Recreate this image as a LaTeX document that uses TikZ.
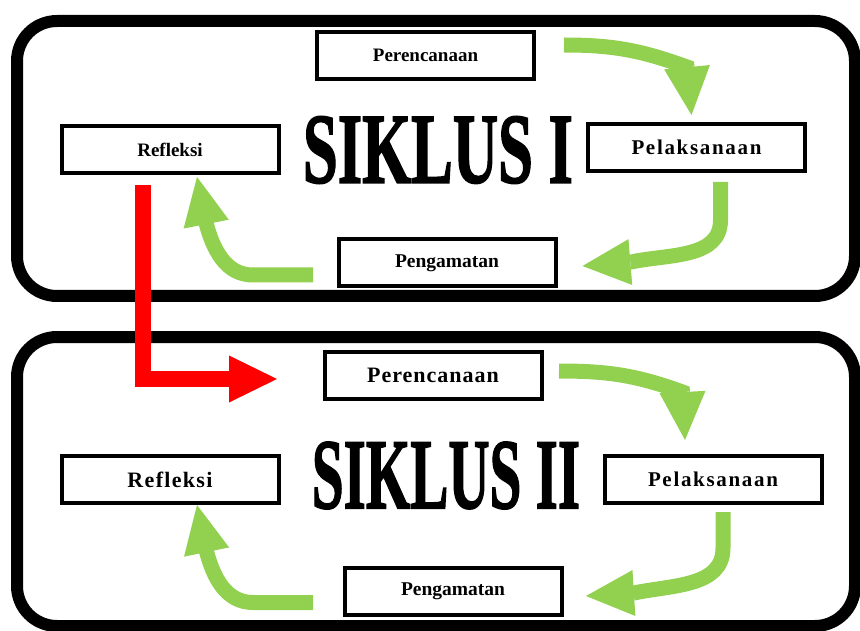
\documentclass[tikz,border=0pt]{standalone}
\usepackage{fontspec}
\setmainfont{Liberation Serif}
\usetikzlibrary{arrows.meta}
\definecolor{hijau}{HTML}{92D050}

\begin{document}
\begin{tikzpicture}[x=1pt,y=1pt,
  bingkai/.style={line width=12pt,rounded corners=40pt},
  tahap/.style={draw,line width=4pt,minimum width=217pt,minimum height=47pt,inner sep=0pt,font=\bfseries\fontsize{19}{19}\selectfont},
  judul/.style={inner sep=0pt,font=\bfseries\fontsize{100}{100}\selectfont\addfontfeature{FakeBold=1.8}},
  panah/.style={draw=hijau,line width=15pt,-{Triangle[length=48pt,width=46pt,line width=0pt]}},
  panahmerah/.style={draw=red,line width=16pt,line join=miter,-{Triangle[length=48pt,width=47pt,line width=0pt]}}]
\useasboundingbox (0,0) rectangle (860,-631);
\draw[bingkai] (17,-21) rectangle (855,-296);
\draw[bingkai] (17,-337) rectangle (855,-626);

\node[tahap] (per1) at (425.5,-55.5) {Perencanaan};
\node[tahap] (refl1) at (170,-150) {Refleksi};
\node[tahap,font=\bfseries\fontsize{21}{21}\selectfont\addfontfeature{LetterSpace=8}] (pel1) at (696.5,-147.5) {Pelaksanaan};
\node[tahap,font=\bfseries\fontsize{19.5}{19.5}\selectfont] (peng1) at (447,-263) {Pengamatan};
\node[judul] (sik1) at (438,-150) {\scalebox{0.627}[1]{SIKLUS I}};

\node[tahap,font=\bfseries\fontsize{22}{22}\selectfont\addfontfeature{LetterSpace=4.5}] (per2) at (433,-375) {Perencanaan};
\node[tahap,font=\bfseries\fontsize{22}{22}\selectfont\addfontfeature{LetterSpace=6}] (refl2) at (170,-479.5) {Refleksi};
\node[tahap,font=\bfseries\fontsize{21}{21}\selectfont\addfontfeature{LetterSpace=8}] (pel2) at (713,-479.5) {Pelaksanaan};
\node[tahap,font=\bfseries\fontsize{19.5}{19.5}\selectfont] (peng2) at (453,-591) {Pengamatan};
\node[judul] (sik2) at (446,-475.5) {\scalebox{0.571}[1]{SIKLUS II}};

\draw[panah] ([xshift=28pt,yshift=10.5pt]per1.east) to[out=0,in=160] ([xshift=-9.5pt,yshift=55pt]pel1.north) -- ([xshift=-5pt,yshift=7pt]pel1.north);
\draw[panah] ([xshift=24pt,yshift=-9pt]pel1.south) -- ++(0,-38) to[out=-90,in=12] ([xshift=73.5pt,yshift=1pt]peng1.east) -- ([xshift=25pt,yshift=-3pt]peng1.east);
\draw[panah] ([xshift=-23.5pt,yshift=-12pt]peng1.west) -- ++(-60,0) to[out=180,in=-75] ([xshift=36pt,yshift=-47.5pt]refl1.south) -- ([xshift=27pt,yshift=-1.5pt]refl1.south);

\draw[panah] ([xshift=15.5pt,yshift=4pt]per2.east) to[out=0,in=160] ([xshift=-30.5pt,yshift=62pt]pel2.north) -- ([xshift=-28pt,yshift=14pt]pel2.north);
\draw[panah] ([xshift=10pt,yshift=-7pt]pel2.south) -- ++(0,-36) to[out=-90,in=12] ([xshift=70.5pt,yshift=-2pt]peng2.east) -- ([xshift=22.5pt,yshift=-5pt]peng2.east);
\draw[panah] ([xshift=-29.5pt,yshift=-11.5pt]peng2.west) -- ++(-60,0) to[out=180,in=-75] ([xshift=36.5pt,yshift=-46.5pt]refl2.south) -- ([xshift=27pt,yshift=0pt]refl2.south);

\coordinate (merah) at ([xshift=-27pt,yshift=-9.5pt]refl1.south);
\coordinate (ujung) at ([xshift=-45.5pt,yshift=-4pt]per2.west);
\draw[panahmerah] (merah) |- (ujung);
\end{tikzpicture}
\end{document}
